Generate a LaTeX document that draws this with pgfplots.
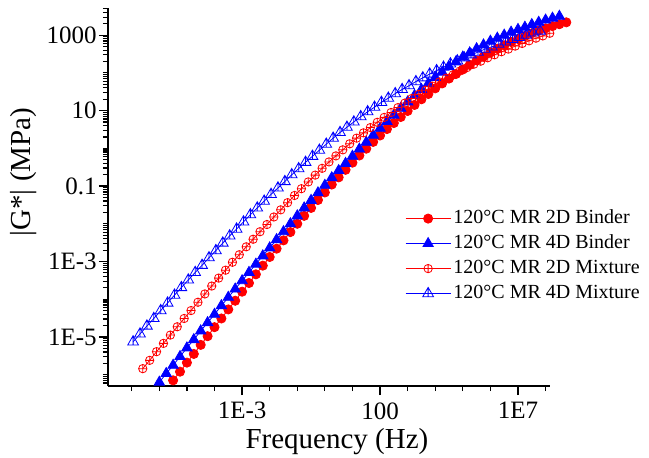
\documentclass[border=0pt]{standalone}
\usepackage{fontspec}
\setmainfont{Liberation Serif}
\usepackage{pgfplots}
\pgfplotsset{compat=1.18}

% open triangle with a vertical bar, as in the legend
\pgfdeclareplotmark{tribar}{%
  \pgfpathmoveto{\pgfqpoint{0pt}{\pgfplotmarksize}}%
  \pgfpathlineto{\pgfqpoint{-.866\pgfplotmarksize}{-.5\pgfplotmarksize}}%
  \pgfpathlineto{\pgfqpoint{.866\pgfplotmarksize}{-.5\pgfplotmarksize}}%
  \pgfpathclose
  \pgfpathmoveto{\pgfqpoint{0pt}{\pgfplotmarksize}}%
  \pgfpathlineto{\pgfqpoint{0pt}{-.5\pgfplotmarksize}}%
  \pgfusepathqstroke}

\begin{document}
\begin{tikzpicture}
\begin{axis}[
  scale only axis, width=221pt, height=189pt,
  xmin=-7.86, xmax=8.16, ymin=-6.3, ymax=3.72,
  axis lines=left, axis line style={-, line width=0.75pt},
  clip=false,
  tick align=outside,
  major tick length=4.5pt, minor tick length=2.5pt,
  every tick/.style={black, line width=0.6pt},
  xtick={-3,2,7}, xticklabels={1E-3,100,1E7},
  minor xtick={-7,-6,...,8},
  ytick={-5,-3,-1,1,3}, yticklabels={1E-5,1E-3,0.1,10,1000},
  minor ytick={-6.222,-6.155,-6.097,-6.046,
    -6,-5.699,-5.523,-5.398,-5.301,-5.222,-5.155,-5.097,-5.046,
    -4.699,-4.523,-4.398,-4.301,-4.222,-4.155,-4.097,-4.046,
    -4,-3.699,-3.523,-3.398,-3.301,-3.222,-3.155,-3.097,-3.046,
    -2.699,-2.523,-2.398,-2.301,-2.222,-2.155,-2.097,-2.046,
    -2,-1.699,-1.523,-1.398,-1.301,-1.222,-1.155,-1.097,-1.046,
    -0.699,-0.523,-0.398,-0.301,-0.222,-0.155,-0.097,-0.046,
    0,0.301,0.477,0.602,0.699,0.778,0.845,0.903,0.954,
    1.301,1.477,1.602,1.699,1.778,1.845,1.903,1.954,
    2,2.301,2.477,2.602,2.699,2.778,2.845,2.903,2.954,
    3.301,3.477,3.602,3.699},
  tick label style={font=\fontsize{12.5}{14}\selectfont, inner sep=1pt},
  xticklabel style={yshift=-2.5pt},
  xlabel={Frequency (Hz)},
  ylabel={|G*| (MPa)},
  label style={font=\fontsize{14.5}{17}\selectfont, inner sep=0pt},
  xlabel style={at={(rel axis cs:0.518,-0.111)}, anchor=north},
  ylabel style={at={(rel axis cs:-0.1606,0.566)}, anchor=south, rotate=0},
  legend style={at={(rel axis cs:0.658,0.486)}, anchor=north west,
    draw=none, fill=none, font=\fontsize{10}{12}\selectfont,
    nodes={inner sep=1.2pt, text height=7pt, text depth=2.5pt},
    row sep=0.6pt},
  legend cell align=left,
  legend image code/.code={%
    \draw[mark repeat=2,mark phase=2] plot coordinates {(0pt,0pt)(11.25pt,0pt)(22.5pt,0pt)};},
]
\coordinate (o) at (rel axis cs:0,0);

\addplot[color=red, line width=0.4pt, mark=*, mark size=2.3pt, mark options={solid, fill=red}]
coordinates {
(-5.5,-6.15) (-5.25,-5.92) (-5,-5.68) (-4.75,-5.45) (-4.5,-5.21) (-4.25,-4.98) (-4,-4.74) (-3.75,-4.51)
(-3.5,-4.27) (-3.25,-4.04) (-3,-3.80) (-2.75,-3.57) (-2.5,-3.34) (-2.25,-3.11) (-2,-2.88) (-1.75,-2.66)
(-1.5,-2.44) (-1.25,-2.22) (-1,-2.00) (-0.75,-1.79) (-0.5,-1.58) (-0.25,-1.37) (0,-1.17) (0.25,-0.96)
(0.5,-0.77) (0.75,-0.57) (1,-0.38) (1.25,-0.19) (1.5,-0.01) (1.75,0.17) (2,0.34) (2.25,0.51)
(2.5,0.67) (2.75,0.83) (3,0.99) (3.25,1.15) (3.5,1.30) (3.75,1.44) (4,1.59) (4.25,1.72)
(4.5,1.85) (4.75,1.97) (5,2.09) (5.25,2.21) (5.5,2.33) (5.75,2.43) (6,2.54) (6.25,2.64)
(6.5,2.73) (6.75,2.82) (7,2.90) (7.25,2.98) (7.5,3.05) (7.75,3.12) (8,3.18) (8.25,3.24)
(8.5,3.29) (8.75,3.34)
};
\addlegendentry{120°C MR 2D Binder}

\addplot[color=blue, line width=0.4pt, mark=triangle*, mark size=3pt, mark options={solid, fill=blue}]
coordinates {
(-6,-6.20) (-5.75,-5.97) (-5.5,-5.75) (-5.25,-5.52) (-5,-5.29) (-4.75,-5.07) (-4.5,-4.84) (-4.25,-4.62)
(-4,-4.40) (-3.75,-4.17) (-3.5,-3.95) (-3.25,-3.73) (-3,-3.51) (-2.75,-3.29) (-2.5,-3.07) (-2.25,-2.85)
(-2,-2.64) (-1.75,-2.42) (-1.5,-2.21) (-1.25,-2.00) (-1,-1.79) (-0.75,-1.58) (-0.5,-1.38) (-0.25,-1.18)
(0,-0.98) (0.25,-0.78) (0.5,-0.59) (0.75,-0.40) (1,-0.21) (1.25,-0.02) (1.5,0.16) (1.75,0.35)
(2,0.53) (2.25,0.71) (2.5,0.88) (2.75,1.06) (3,1.23) (3.25,1.40) (3.5,1.56) (3.75,1.72)
(4,1.88) (4.25,2.02) (4.5,2.16) (4.75,2.29) (5,2.42) (5.25,2.53) (5.5,2.64) (5.75,2.74)
(6,2.84) (6.25,2.92) (6.5,3.00) (6.75,3.08) (7,3.15) (7.25,3.21) (7.5,3.28) (7.75,3.34)
(8,3.40) (8.25,3.45) (8.5,3.50)
};
\addlegendentry{120°C MR 4D Binder}

\addplot[color=red, line width=0.4pt, mark=oplus, mark size=2.1pt, mark options={solid, line width=0.4pt}]
coordinates {
(-6.6,-5.84) (-6.35,-5.62) (-6.1,-5.39) (-5.85,-5.17) (-5.6,-4.95) (-5.35,-4.73) (-5.1,-4.51) (-4.85,-4.30)
(-4.6,-4.08) (-4.35,-3.86) (-4.1,-3.65) (-3.85,-3.44) (-3.6,-3.23) (-3.35,-3.02) (-3.1,-2.82) (-2.85,-2.61)
(-2.6,-2.41) (-2.35,-2.21) (-2.1,-2.02) (-1.85,-1.82) (-1.6,-1.63) (-1.35,-1.44) (-1.1,-1.25) (-0.85,-1.07)
(-0.6,-0.89) (-0.35,-0.71) (-0.1,-0.53) (0.15,-0.36) (0.4,-0.20) (0.65,-0.04) (0.9,0.12) (1.15,0.27)
(1.4,0.41) (1.65,0.55) (1.9,0.69) (2.15,0.82) (2.4,0.95) (2.65,1.08) (2.9,1.20) (3.15,1.32)
(3.4,1.43) (3.65,1.54) (3.9,1.65) (4.15,1.76) (4.4,1.86) (4.65,1.95) (4.9,2.05) (5.15,2.14)
(5.4,2.23) (5.65,2.31) (5.9,2.40) (6.15,2.48) (6.4,2.56) (6.65,2.63) (6.9,2.71) (7.15,2.78)
(7.4,2.85) (7.65,2.92) (7.9,2.98) (8.15,3.05)
};
\addlegendentry{120°C MR 2D Mixture}

\addplot[color=blue, line width=0.4pt, mark=tribar, mark size=3.1pt, mark options={solid, line width=0.4pt}]
coordinates {
(-6.95,-5.13) (-6.7,-4.92) (-6.45,-4.71) (-6.2,-4.51) (-5.95,-4.30) (-5.7,-4.10) (-5.45,-3.89) (-5.2,-3.69)
(-4.95,-3.49) (-4.7,-3.29) (-4.45,-3.10) (-4.2,-2.90) (-3.95,-2.71) (-3.7,-2.51) (-3.45,-2.32) (-3.2,-2.14)
(-2.95,-1.95) (-2.7,-1.76) (-2.45,-1.58) (-2.2,-1.40) (-1.95,-1.22) (-1.7,-1.05) (-1.45,-0.88) (-1.2,-0.70)
(-0.95,-0.54) (-0.7,-0.37) (-0.45,-0.21) (-0.2,-0.05) (0.05,0.11) (0.3,0.27) (0.55,0.42) (0.8,0.56)
(1.05,0.70) (1.3,0.84) (1.55,0.97) (1.8,1.09) (2.05,1.22) (2.3,1.33) (2.55,1.45) (2.8,1.56)
(3.05,1.66) (3.3,1.77) (3.55,1.87) (3.8,1.97) (4.05,2.06) (4.3,2.15) (4.55,2.24) (4.8,2.32)
(5.05,2.40) (5.3,2.48) (5.55,2.55) (5.8,2.63) (6.05,2.69) (6.3,2.76) (6.55,2.82) (6.8,2.89)
(7.05,2.94) (7.3,3.00) (7.55,3.06) (7.8,3.11)
};
\addlegendentry{120°C MR 4D Mixture}
\end{axis}
\pgfresetboundingbox
\path (o) ++(-54pt,-35.5pt) rectangle ++(324.5pt,228.5pt);
\end{tikzpicture}
\end{document}
